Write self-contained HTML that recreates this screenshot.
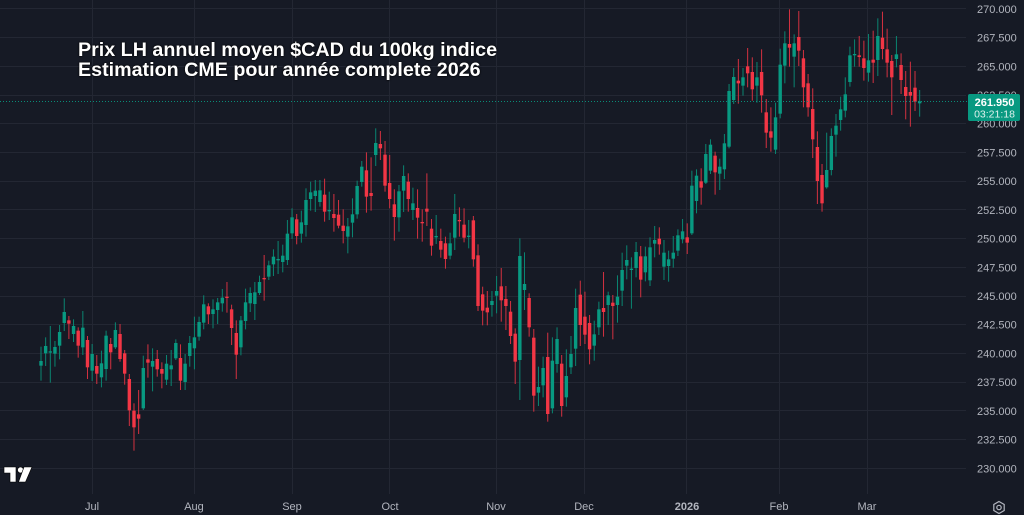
<!DOCTYPE html>
<html><head><meta charset="utf-8">
<style>
html,body{margin:0;padding:0;background:#161a25;}
body{width:1024px;height:515px;overflow:hidden;position:relative;font-family:"Liberation Sans",sans-serif;}
svg{position:absolute;left:0;top:0;}
.title{position:absolute;left:78px;top:40px;color:#fff;font-weight:bold;font-size:19.7px;line-height:20px;white-space:nowrap;text-shadow:0 0 2px #000,0 0 1px #000;}
</style></head><body>
<svg width="1024" height="515" viewBox="0 0 1024 515">
 <rect width="1024" height="515" fill="#161a25"/>
 <g stroke="#232733" stroke-width="1">
  <line x1="0" x2="966" y1="468.5" y2="468.5"/>
  <line x1="0" x2="966" y1="439.5" y2="439.5"/>
  <line x1="0" x2="966" y1="410.5" y2="410.5"/>
  <line x1="0" x2="966" y1="382.5" y2="382.5"/>
  <line x1="0" x2="966" y1="353.5" y2="353.5"/>
  <line x1="0" x2="966" y1="324.5" y2="324.5"/>
  <line x1="0" x2="966" y1="296.5" y2="296.5"/>
  <line x1="0" x2="966" y1="267.5" y2="267.5"/>
  <line x1="0" x2="966" y1="238.5" y2="238.5"/>
  <line x1="0" x2="966" y1="209.5" y2="209.5"/>
  <line x1="0" x2="966" y1="181.5" y2="181.5"/>
  <line x1="0" x2="966" y1="152.5" y2="152.5"/>
  <line x1="0" x2="966" y1="123.5" y2="123.5"/>
  <line x1="0" x2="966" y1="95.5" y2="95.5"/>
  <line x1="0" x2="966" y1="66.5" y2="66.5"/>
  <line x1="0" x2="966" y1="37.5" y2="37.5"/>
  <line x1="0" x2="966" y1="8.5" y2="8.5"/>
  <line y1="0" y2="494" x1="92.5" x2="92.5"/>
  <line y1="0" y2="494" x1="194.5" x2="194.5"/>
  <line y1="0" y2="494" x1="292.5" x2="292.5"/>
  <line y1="0" y2="494" x1="389.5" x2="389.5"/>
  <line y1="0" y2="494" x1="496.5" x2="496.5"/>
  <line y1="0" y2="494" x1="584.5" x2="584.5"/>
  <line y1="0" y2="494" x1="686.5" x2="686.5"/>
  <line y1="0" y2="494" x1="779.5" x2="779.5"/>
  <line y1="0" y2="494" x1="867.5" x2="867.5"/>
 </g>
 <g id="candles"></g>
 <line x1="0" x2="968" y1="101.5" y2="101.5" stroke="#089981" stroke-width="1" stroke-dasharray="1 2" opacity="0.9"/>
 <g font-family="Liberation Sans, sans-serif" font-size="11" fill="#b2b5be">
  <text x="977" y="12.9">270.000</text>
  <text x="977" y="41.6">267.500</text>
  <text x="977" y="70.3">265.000</text>
  <text x="977" y="99">262.500</text>
  <text x="977" y="127.7">260.000</text>
  <text x="977" y="156.5">257.500</text>
  <text x="977" y="185.2">255.000</text>
  <text x="977" y="213.9">252.500</text>
  <text x="977" y="242.6">250.000</text>
  <text x="977" y="271.3">247.500</text>
  <text x="977" y="300">245.000</text>
  <text x="977" y="328.7">242.500</text>
  <text x="977" y="357.4">240.000</text>
  <text x="977" y="386.2">237.500</text>
  <text x="977" y="414.9">235.000</text>
  <text x="977" y="443.6">232.500</text>
  <text x="977" y="472.3">230.000</text>
 </g>
 <rect x="968" y="94" width="52" height="27" rx="2" fill="#089981"/>
 <text x="994.5" y="106" font-family="Liberation Sans, sans-serif" font-size="11" font-weight="bold" fill="#ffffff" text-anchor="middle">261.950</text>
 <text x="994.5" y="117.5" font-family="Liberation Sans, sans-serif" font-size="10.5" fill="#dff2ee" text-anchor="middle">03:21:18</text>
 <g font-family="Liberation Sans, sans-serif" font-size="11" fill="#b2b5be" text-anchor="middle">
  <text x="92" y="510">Jul</text>
  <text x="194" y="510">Aug</text>
  <text x="292" y="510">Sep</text>
  <text x="390" y="510">Oct</text>
  <text x="496" y="510">Nov</text>
  <text x="584" y="510">Dec</text>
  <text x="687" y="510" font-weight="bold">2026</text>
  <text x="779" y="510">Feb</text>
  <text x="867" y="510">Mar</text>
 </g>
 <g fill="#ffffff" stroke="#000" stroke-width="0.6">
  <path d="M4 467 H16 V482 H10 V473 H4 Z"/>
  <circle cx="20.5" cy="470" r="3"/>
  <path d="M24 467 H32 L25.5 482 H18.5 Z"/>
 </g>
 <g fill="none" stroke="#b2b5be" stroke-width="1.2">
  <polygon points="999,501.5 1004.2,504.5 1004.2,510.5 999,513.5 993.8,510.5 993.8,504.5"/>
  <circle cx="999" cy="507.5" r="2.2"/>
 </g>
</svg>
<div class="title">Prix LH annuel moyen $CAD du 100kg indice<br>Estimation CME pour année complete 2026</div>
<script>
const segs=[
[280,`g 200 243 257 302
g 172 198 220 258
g 138 214 217 308
g 183 201 221 260
g 135 156 197 238
g 55 96 129 153
r 108 121 131 177
g 118 138 162 186
r 142 152 197 233
g 93 143 202 225
r 168 180 262 297
g 192 222 272 303
r 225 258 281 312
g 212 250 292 322
g 152 167 267 302
r 174 192 217 268
g 127 150 202 207
r 132 162 237 245
r 210 220 281 314
r 282 297 391 438
r 370 392 442 512
r 330 403 416 462
g 227 264 385 390
r 193 238 248 293
g 205 243 260 334
r 210 237 268 290`],
[170,`r 577 597 611 655
g 555 581 629 645
g 540 586 598 648
g 508 519 565 570
r 523 564 632 660
g 552 581 636 660
g 498 519 558 590
g 440 502 535 598
g 440 456 500 512
g 376 403 458 478
r 400 409 433 462
g 388 418 432 475
g 384 397 420 462
g 357 383 400 425
r 336 380 384 428
r 404 418 474 525
r 451 489 554 627
g 438 451 532 556
g 356 397 453 478
g 352 369 400 426
g 336 367 402 450
g 317 336 369 375
r 255 324 328 392
g 272 286 320 330
g 238 260 283 318
g 213 267 271 312
g 224 257 276 307`],
[120,`g 300 341 420 435
g 265 292 340 357
r 282 298 348 373
g 272 307 341 368
g 205 240 315 350
g 185 217 237 272
g 180 212 228 276
g 180 211 246 260
r 176 224 275 305
g 215 270 274 300
r 222 282 294 335
r 240 284 317 325
r 268 317 333 370
g 294 319 350 400
g 235 283 308 352
g 182 198 283 296
g 123 140 186 200
r 97 151 230 278
r 112 219 228 272
g 25 69 105 138
r 33 72 85 120
r 63 104 197 215
r 105 189 237 265
r 208 253 291 362
g 195 214 292 335
g 136 168 212 276
r 160 185 237 275`],
[180,`g 23 70 90 120
r 28 84 113 176
r 88 126 128 185
r -20 86 95 138
r 117 146 197 227
g 105 168 172 192
r 146 183 209 233
r 170 190 237 266
g 158 190 227 238
g 42 102 173 210
r 82 120 123 170
r 85 134 173 187
g 120 167 170 205
r 108 121 238 260
r 193 226 378 393
r 320 343 392 436
r 333 383 397 436
g 333 363 375 410
g 288 333 347 400
r 264 319 361 425
r 318 357 378 450
r 363 395 468 492
r 445 461 545 612
g 175 228 540 660
g 217 312 330 390
r 340 354 442 470
r 447 473 647 695`],
[150,`g 650 711 728 768
g 620 654 706 742
r 548 621 792 815
g 562 632 775 790
g 532 567 642 668
r 615 641 768 800
g 598 678 742 770
g 558 612 652 672
g 416 474 596 648
r 392 434 525 588
r 425 500 554 582
r 495 519 598 643
g 512 553 587 632
g 455 478 532 555
r 366 474 486 560
g 425 436 465 525
r 435 458 468 568
g 376 440 465 518
g 308 360 422 468
g 286 330 347 388
g 322 356 359 476
g 276 306 354 382
r 288 319 389 442
g 290 319 367 394
g 262 292 391 408
g 228 270 281 322
r 232 266 283 314`],
[0,`g 720 758 800 840
g 752 778 798 845
g 708 758 776 803
g 688 706 752 768
g 657 694 718 730
r 670 712 728 762
g 512 557 700 705
g 508 527 603 640
r 505 544 563 614
g 432 462 548 552
g 418 434 512 522
r 455 467 517 584
g 476 500 521 570
g 402 430 508 537
g 252 273 440 445
g 204 231 300 312
r 177 242 250 311
g 204 232 257 287
r 144 199 220 262
r 172 216 268 302
g 186 232 257 308
r 148 216 286 338
r 297 337 398 444
r 322 394 413 455
g 308 352 449 462
g 146 194 341 355
g 94 130 197 250`],
[0,`r 28 132 143 200
g 103 130 170 262
r 33 111 152 198
r 150 175 262 322
r 222 250 322 350
r 265 327 418 474
r 394 441 543 612
r 492 525 610 635
g 398 510 562 566
g 385 408 510 526
g 342 377 404 470
g 290 328 360 392
g 232 283 332 352
g 140 166 246 260
g 118 162 164 200
r 108 166 171 200
r 122 175 204 242
g 102 181 218 245
r 92 179 188 249
g 55 108 180 228
r 35 113 147 178
r 86 148 188 232
r 165 183 232 345
g 108 163 177 202
r 160 195 240 282
r 213 261 288 358
r 185 276 287 380
r 213 263 305 333
g 270 304 310 350`]
];
let i=0,out='';
const sp=4.649,x0=41;
for(const [oy,str] of segs){
 for(const line of str.trim().split('\n')){
  const p=line.trim().split(/\s+/);
  const c=p[0],h=+p[1],t=+p[2],b=+p[3],l=+p[4];
  const x=x0+i*sp;
  const H=oy+h/3,T=oy+t/3,B=oy+b/3,L=oy+l/3;
  const col=c==='g'?'#089981':'#f23645';
  const wc=c==='g'?'#0a8571':'#d33140';
  out+='<rect x="'+(x-0.5).toFixed(2)+'" y="'+H.toFixed(2)+'" width="1" height="'+(L-H).toFixed(2)+'" fill="'+wc+'"/>';
  const bh=Math.max(B-T,1.3);
  out+='<rect x="'+(x-1.7).toFixed(2)+'" y="'+T.toFixed(2)+'" width="3.4" height="'+bh.toFixed(2)+'" fill="'+col+'"/>';
  i++;
 }
}
document.getElementById('candles').innerHTML=out;
</script>
</body></html>
